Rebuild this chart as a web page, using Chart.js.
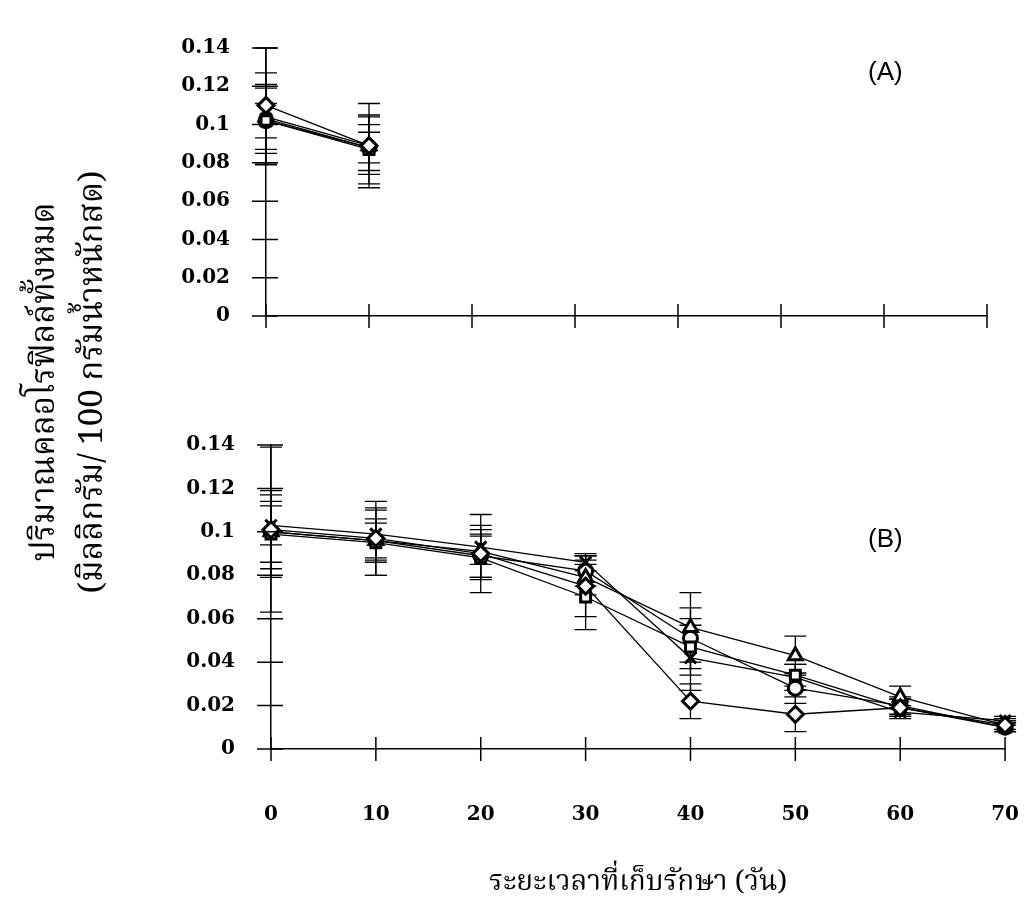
<!DOCTYPE html>
<html>
<head>
<meta charset="utf-8">
<script src="https://cdn.jsdelivr.net/npm/chart.js@4.4.0/dist/chart.umd.min.js"></script>
<style>
  body { margin:0; background:#fff; width:1026px; height:908px; position:relative; overflow:hidden; }
  canvas { position:absolute; left:0; top:0; }
  .panel { position:absolute; font-family:'Liberation Sans', Arial, sans-serif; font-size:26px; color:#000; }
  #ytitle { position:absolute; left:-180px; top:334px; width:500px; height:96px; transform:rotate(-90deg);
            text-align:center; font-family:'Noto Serif Thai','Noto Sans Thai','Loma','Garuda','Norasi',serif;
            font-size:33px; line-height:48px; color:#000; white-space:nowrap; }
</style>
</head>
<body>
<canvas id="chartA" width="1026" height="908"></canvas>
<canvas id="chartB" width="1073" height="908"></canvas>
<div class="panel" style="left:868px;top:56px">(A)</div>
<div class="panel" style="left:868px;top:523px">(B)</div>
<div id="ytitle">ปริมาณคลอโรฟิลล์ทั้งหมด<br>(มิลลิกรัม/ 100 กรัมน้ำหนักสด)</div>
<script>
// days of storage
const daysA = [0, 10];
const daysB = [0, 10, 20, 30, 40, 50, 60, 70];
const yTickLabels = ['0', '0.02', '0.04', '0.06', '0.08', '0.1', '0.12', '0.14'];
const xTickLabels = ['0', '10', '20', '30', '40', '50', '60', '70'];

// panel A
const aDiamond  = [0.110, 0.089];
const aSquare   = [0.102, 0.087];
const aTriangle = [0.104, 0.089];
const aCross    = [0.103, 0.088];
const aCircle   = [0.102, 0.088];
const aDiamondErr  = [0.030, 0.022];
const aSquareErr   = [0.017, 0.018];
const aTriangleErr = [0.017, 0.015];
const aCrossErr    = [0.024, 0.012];
const aCircleErr   = [0.009, 0.008];

// panel B
const bDiamond  = [0.101, 0.097, 0.090, 0.075, 0.022, 0.016, 0.019, 0.011];
const bSquare   = [0.099, 0.095, 0.088, 0.070, 0.047, 0.034, 0.019, 0.010];
const bTriangle = [0.100, 0.096, 0.091, 0.079, 0.056, 0.043, 0.024, 0.011];
const bCross    = [0.103, 0.099, 0.093, 0.086, 0.042, 0.033, 0.017, 0.013];
const bCircle   = [0.100, 0.096, 0.089, 0.082, 0.051, 0.028, 0.020, 0.010];
const bDiamondErr  = [0.038, 0.017, 0.018, 0.014, 0.008, 0.008, 0.004, 0.003];
const bSquareErr   = [0.020, 0.015, 0.010, 0.015, 0.013, 0.005, 0.004, 0.002];
const bTriangleErr = [0.014, 0.010, 0.012, 0.008, 0.016, 0.009, 0.005, 0.002];
const bCrossErr    = [0.009, 0.012, 0.008, 0.004, 0.015, 0.006, 0.003, 0.002];
const bCircleErr   = [0.017, 0.008, 0.010, 0.007, 0.014, 0.007, 0.004, 0.002];

const markers = ['rectRot', 'rect', 'triangle', 'crossRot', 'circle'];
const radii   = [8, 7, 8, 8, 7];

function makeSets(days, series, errs) {
  return series.map((vals, s) => ({
    data: vals.map((v, i) => ({ x: days[i], y: v })),
    errors: errs[s],
    borderColor: '#000',
    borderWidth: 1.3,
    pointStyle: markers[s],
    pointRadius: radii[s],
    pointBorderWidth: 3,
    pointBackgroundColor: '#fff',
    pointBorderColor: '#000',
    tension: 0,
    clip: false
  }));
}

// error bars + crossing tick marks, placed with the chart's scales
const errorBars = {
  id: 'errorBars',
  beforeDatasetsDraw(chart) {
    const ctx = chart.ctx, xs = chart.scales.x, ys = chart.scales.y;
    ctx.save();
    ctx.strokeStyle = '#000';
    ctx.lineWidth = 1.3;
    chart.data.datasets.forEach(ds => {
      ds.data.forEach((p, i) => {
        const e = ds.errors[i];
        const x = xs.getPixelForValue(p.x);
        const y1 = ys.getPixelForValue(p.y + e);
        const y2 = ys.getPixelForValue(p.y - e);
        ctx.beginPath();
        ctx.moveTo(x, y1); ctx.lineTo(x, y2);
        ctx.moveTo(x - 11, y1); ctx.lineTo(x + 11, y1);
        ctx.moveTo(x - 11, y2); ctx.lineTo(x + 11, y2);
        ctx.stroke();
      });
    });
    ctx.restore();
  },
  afterDraw(chart) {
    const ctx = chart.ctx, xs = chart.scales.x, ys = chart.scales.y;
    const ax = xs.getPixelForValue(0), ay = ys.getPixelForValue(0);
    ctx.save();
    ctx.strokeStyle = '#000';
    ctx.lineWidth = 1.5;
    ctx.beginPath();
    ys.ticks.forEach(t => {
      const y = ys.getPixelForValue(t.value);
      ctx.moveTo(ax - 14, y); ctx.lineTo(ax + 12, y);
    });
    xs.ticks.forEach(t => {
      const x = xs.getPixelForValue(t.value);
      ctx.moveTo(x, ay - 12); ctx.lineTo(x, ay + 12);
    });
    ctx.stroke();
    ctx.restore();
  }
};

const tickFont = { family: "'DejaVu Serif', 'Liberation Serif', serif", size: 20, weight: 'bold' };

function makeOptions(pad, yWidth, xHeight, showX) {
  return {
    responsive: false,
    animation: false,
    layout: { padding: pad },
    plugins: { legend: { display: false }, tooltip: { enabled: false } },
    scales: {
      x: {
        type: 'linear', min: 0, max: 70,
        afterFit: s => { s.height = xHeight; },
        grid: { drawOnChartArea: false, drawTicks: false },
        border: { display: true, color: '#000', width: 1.5 },
        ticks: {
          display: showX, stepSize: 10, padding: 54, color: '#000', font: tickFont,
          callback: (v, i) => xTickLabels[i]
        },
        title: {
          display: showX, text: 'ระยะเวลาที่เก็บรักษา (วัน)', color: '#000',
          font: { family: "'Noto Serif Thai','Noto Sans Thai','Loma','Garuda','Norasi',serif", size: 28 },
          padding: { top: 0, bottom: 6 }
        }
      },
      y: {
        min: 0, max: 0.14,
        afterFit: s => { s.width = yWidth; },
        grid: { drawOnChartArea: false, drawTicks: false },
        border: { display: true, color: '#000', width: 1.5 },
        ticks: {
          stepSize: 0.02, padding: 36, color: '#000', font: tickFont,
          callback: (v, i) => yTickLabels[i]
        }
      }
    }
  };
}

new Chart(document.getElementById('chartA'), {
  type: 'line',
  data: {
    datasets: makeSets(daysA,
      [aDiamond, aSquare, aTriangle, aCross, aCircle],
      [aDiamondErr, aSquareErr, aTriangleErr, aCrossErr, aCircleErr])
  },
  options: makeOptions({ left: 0, top: 19, right: 39, bottom: 582 }, 266, 10, false),
  plugins: [errorBars]
});

new Chart(document.getElementById('chartB'), {
  type: 'line',
  data: {
    datasets: makeSets(daysB,
      [bDiamond, bSquare, bTriangle, bCross, bCircle],
      [bDiamondErr, bSquareErr, bTriangleErr, bCrossErr, bCircleErr])
  },
  options: makeOptions({ left: 0, top: 445, right: 21, bottom: 0 }, 271, 159, true),
  plugins: [errorBars]
});
</script>
</body>
</html>
